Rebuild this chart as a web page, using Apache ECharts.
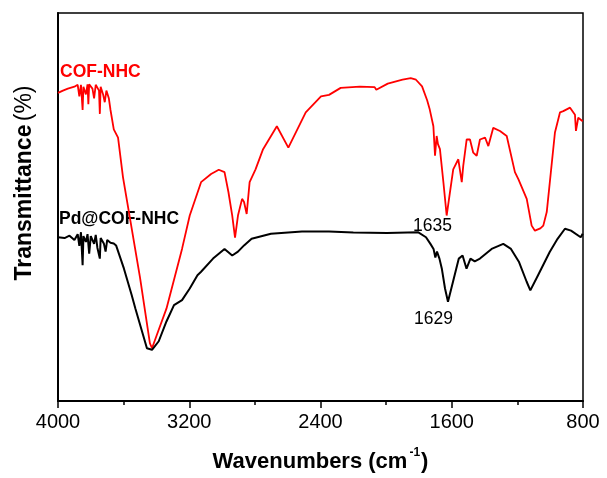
<!DOCTYPE html>
<html><head><meta charset="utf-8">
<script src="https://cdn.jsdelivr.net/npm/echarts@6/dist/echarts.min.js"></script>
<style>html,body{margin:0;padding:0;background:#fff}#c{width:607px;height:478px}</style>
</head><body><div id="c"></div>
<script>
// Wavenumber axis ticks
var xTicks = [4000, 3200, 2400, 1600, 800];
// COF-NHC (red)
var redWn = [4000,3970,3940,3900,3880,3870,3860,3850,3845,3830,3820,3815,3810,3790,3780,3770,3750,3745,3740,3725,3715,3705,3690,3680,3660,3634,3604,3561,3500,3440,3427,3390,3339,3244,3197,3128,3067,3020,2985,2961,2938,2921,2903,2878,2866,2850,2832,2796,2750,2666,2596,2490,2397,2348,2277,2160,2070,2060,1990,1900,1850,1818,1781,1750,1734,1712,1702,1692,1684,1672,1650,1631,1611,1591,1560,1539,1530,1509,1489,1469,1448,1428,1397,1377,1347,1306,1265,1215,1194,1143,1113,1093,1060,1042,1021,971,940,920,879,849,843,829,802];
var redT = [79.4,80.0,80.5,81.0,81.5,78.5,81.5,75.0,81.0,79.0,81.6,76.5,81.6,80.5,78.0,81.5,80.0,74.0,81.0,79.0,77.0,80.0,78.0,75.0,70.0,67.9,57.7,47.0,31.8,14.9,13.6,17.9,23.8,39.2,47.8,56.4,58.5,59.6,59.0,53.8,47.8,42.1,47.8,52.1,51.3,48.2,56.4,59.7,64.9,70.8,65.3,74.4,78.5,78.9,80.7,81.0,80.9,80.2,81.8,82.8,83.2,82.8,81.1,77.5,75.1,70.8,63.2,68.3,66.2,64.9,56.0,47.8,53.8,59.7,62.3,56.4,60.6,67.4,67.4,64.0,63.2,67.4,67.9,65.7,70.4,69.6,68.3,59.0,57.2,52.1,45.2,43.9,44.5,45.2,48.7,69.2,74.4,74.7,75.6,73.8,69.6,73.0,72.1];
// Pd@COF-NHC (black)
var blackWn = [4000,3960,3930,3900,3880,3870,3860,3850,3845,3830,3820,3810,3800,3780,3770,3760,3745,3740,3720,3710,3700,3693,3680,3660,3646,3598,3551,3528,3458,3427,3386,3339,3293,3244,3197,3150,3128,3055,2985,2938,2903,2866,2820,2702,2513,2348,2200,1995,1806,1757,1730,1711,1700,1690,1675,1660,1641,1623,1592,1557,1534,1510,1486,1460,1428,1357,1286,1239,1191,1144,1121,1074,1003,955,910,873,814,802];
var blackT = [42.2,42.0,42.6,41.5,43.0,40.0,43.5,35.0,42.5,41.0,43.0,38.0,42.5,40.5,42.8,39.5,36.7,42.0,40.5,38.5,41.5,41.8,40.8,40.6,40.1,34.1,27.3,23.8,13.6,13.2,15.4,20.5,24.7,26.0,29.0,32.4,33.3,36.7,39.2,37.5,38.5,40.1,41.8,43.1,43.7,43.7,43.4,43.3,43.5,42.2,40.5,39.2,37.0,38.5,36.7,34.0,29.0,25.6,30.8,36.7,37.5,34.1,36.7,36.0,36.7,39.2,40.5,39.2,35.9,30.8,28.5,32.4,38.4,41.8,44.4,43.9,42.2,43.1];

function pairs(a, b){ return a.map(function(v,i){ return [v, b[i]]; }); }

var chart = echarts.init(document.getElementById('c'), null, {renderer:'canvas'});
var FONT = '"Liberation Sans", Arial, sans-serif';
chart.setOption({
  animation: false,
  backgroundColor: '#fff',
  grid: {left: 58, right: 24, top: 13, bottom: 75, show: true, borderColor: '#000', borderWidth: 1.5, backgroundColor: 'transparent'},
  xAxis: {
    type: 'value', inverse: true, min: 800, max: 4000, interval: 800,
    axisLine: {show: true, lineStyle: {color: '#000', width: 2}},
    axisTick: {show: true, inside: false, length: 7, lineStyle: {color: '#000', width: 1.5}},
    minorTick: {show: true, splitNumber: 2, length: 4, lineStyle: {color: '#000', width: 1.5}},
    splitLine: {show: false},
    axisLabel: {color: '#000', fontSize: 20, fontFamily: FONT, margin: 11,
      formatter: function(v){ return xTicks.indexOf(v) >= 0 ? String(v) : ''; }},
    name: '{a|Wavenumbers (cm}{s|-1}{a|)}',
    nameLocation: 'middle', nameGap: 46,
    nameTextStyle: {rich: {
      a: {fontSize: 22, fontWeight: 'bold', fontFamily: FONT, color: '#000', verticalAlign: 'bottom', lineHeight: 26},
      s: {fontSize: 12, fontWeight: 'bold', fontFamily: FONT, color: '#000', verticalAlign: 'top', padding: [0, 1, 12, 2], lineHeight: 26}
    }}
  },
  yAxis: {
    type: 'value', min: 0, max: 100,
    axisLine: {show: true, lineStyle: {color: '#000', width: 2}},
    axisTick: {show: false}, axisLabel: {show: false}, splitLine: {show: false},
    name: '{b|Transmittance} {r|(%)}',
    nameLocation: 'middle', nameGap: 22, nameRotate: 90,
    nameTextStyle: {padding: [0, 0, 0, 48], rich: {
      b: {fontSize: 23, fontWeight: 'bold', fontFamily: FONT, color: '#000'},
      r: {fontSize: 23, fontWeight: 'normal', fontFamily: FONT, color: '#000'}
    }}
  },
  series: [
    {name: 'COF-NHC', type: 'line', data: pairs(redWn, redT), showSymbol: false, symbol: 'none',
      lineStyle: {color: '#ff0000', width: 1.8}, itemStyle: {color: '#ff0000'}},
    {name: 'Pd@COF-NHC', type: 'line', data: pairs(blackWn, blackT), showSymbol: false, symbol: 'none',
      lineStyle: {color: '#000', width: 2}, itemStyle: {color: '#000'}}
  ],
  graphic: [
    {type: 'text', left: 60, top: 63, style: {text: 'COF-NHC', fill: '#ff0000', font: 'bold 17.5px ' + FONT}},
    {type: 'text', left: 59, top: 210, style: {text: 'Pd@COF-NHC', fill: '#000', font: 'bold 17.5px ' + FONT}},
    {type: 'text', left: 413, top: 217, style: {text: '1635', fill: '#000', font: '17.5px ' + FONT}},
    {type: 'text', left: 414, top: 310, style: {text: '1629', fill: '#000', font: '17.5px ' + FONT}}
  ]
});
</script></body></html>
